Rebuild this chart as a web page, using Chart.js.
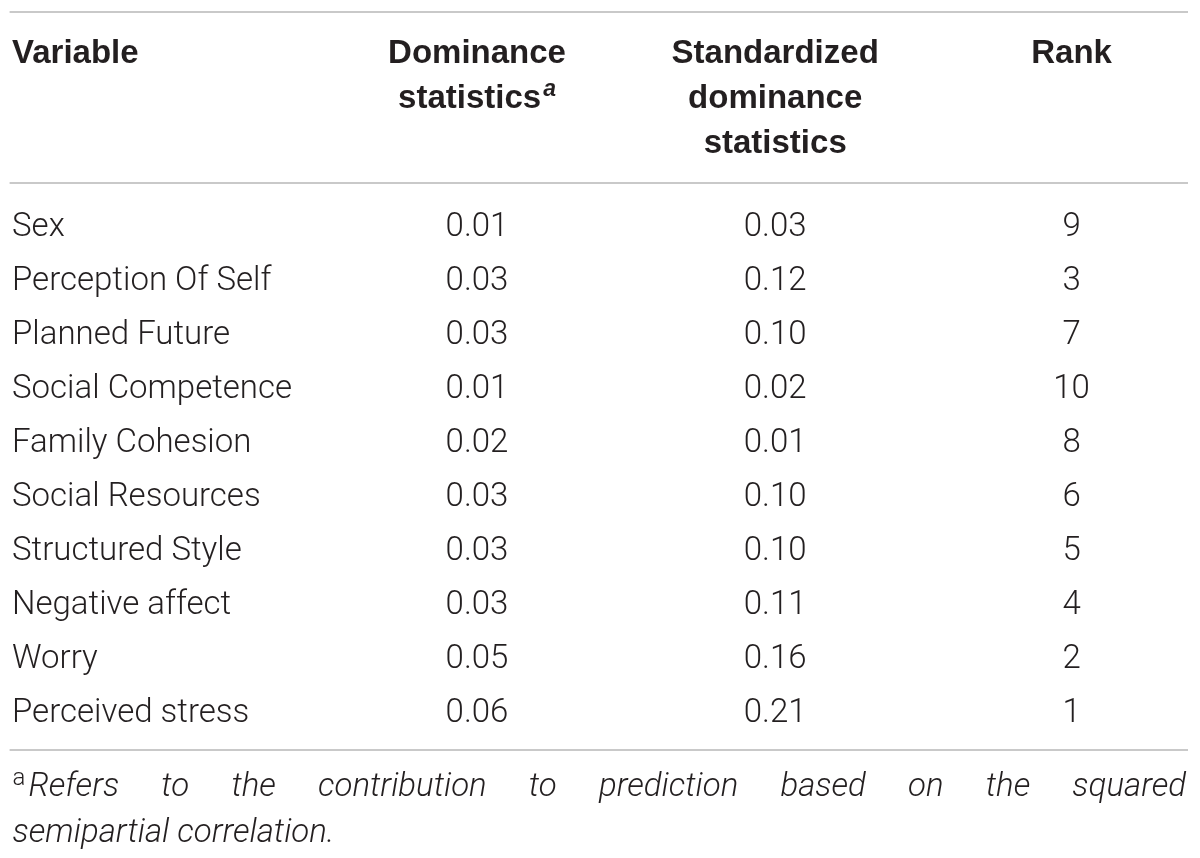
<!DOCTYPE html>
<html>
<head>
<meta charset="utf-8">
<script src="https://cdn.jsdelivr.net/npm/chart.js@4.4.1/dist/chart.umd.min.js"></script>
<style>
  html, body { margin: 0; padding: 0; background: #fff; }
  #wrap { width: 1200px; height: 858px; }
</style>
</head>
<body>
<div id="wrap"><canvas id="tableChart"></canvas></div>
<script>
// table content
const headerLines = [
  ['Variable'],
  ['Dominance', 'statistics'],
  ['Standardized', 'dominance', 'statistics'],
  ['Rank']
];
const variables = [
  'Sex', 'Perception Of Self', 'Planned Future', 'Social Competence', 'Family Cohesion',
  'Social Resources', 'Structured Style', 'Negative affect', 'Worry', 'Perceived stress'
];
const dominance = [0.01, 0.03, 0.03, 0.01, 0.02, 0.03, 0.03, 0.03, 0.05, 0.06];
const standardized = [0.03, 0.12, 0.10, 0.02, 0.01, 0.10, 0.10, 0.11, 0.16, 0.21];
const ranks = [9, 3, 7, 10, 8, 6, 5, 4, 2, 1];
const footnoteMark = 'a';
const footnoteLine1 = 'Refers to the contribution to prediction based on the squared';
const footnoteLine2 = 'semipartial correlation.';

// layout (x in fraction of width, y in row units at text baselines)
const colAnchor = [0.01, 0.3975, 0.646, 0.893];
const headerRows = [-3.204, -2.37, -1.537];
const ruleRows = [-4.148, -0.981, 9.519];
const footRows = [10.37, 11.22];

const BODY_FONT = '300 33px "Helvetica Neue", Roboto, "Liberation Sans", sans-serif';
const HEAD_FONT = 'bold 33px "Helvetica Neue", "Liberation Sans", Arial, sans-serif';
const SUP_FONT = 'italic bold 23px "Helvetica Neue", "Liberation Sans", Arial, sans-serif';
const TEXT_COLOR = '#231f20';

const fmt = v => v.toFixed(2);

const tablePlugin = {
  id: 'tableText',
  afterDatasetsDraw(chart) {
    const ctx = chart.ctx;
    const xs = chart.scales.x, ys = chart.scales.y;
    const left = xs.getPixelForValue(0.008), right = xs.getPixelForValue(0.99);
    ctx.save();

    // horizontal rules
    ctx.strokeStyle = '#c9c9c9';
    ctx.lineWidth = 2;
    ruleRows.forEach(r => {
      const y = Math.round(ys.getPixelForValue(r));
      ctx.beginPath();
      ctx.moveTo(left, y);
      ctx.lineTo(right, y);
      ctx.stroke();
    });

    // header
    ctx.fillStyle = TEXT_COLOR;
    ctx.textBaseline = 'alphabetic';
    headerLines.forEach((lines, c) => {
      const x = xs.getPixelForValue(colAnchor[c]);
      lines.forEach((t, k) => {
        const y = ys.getPixelForValue(headerRows[k]);
        ctx.font = HEAD_FONT;
        if (c === 1 && k === 1) {
          // "statistics" with the italic footnote mark
          const w = ctx.measureText(t).width;
          ctx.font = SUP_FONT;
          const ws = ctx.measureText(footnoteMark).width;
          const start = x - (w + ws + 2) / 2;
          ctx.textAlign = 'left';
          ctx.font = HEAD_FONT;
          ctx.fillText(t, start, y);
          ctx.font = SUP_FONT;
          ctx.fillText(footnoteMark, start + w + 2, y - 12);
        } else {
          ctx.textAlign = c === 0 ? 'left' : 'center';
          ctx.fillText(t, x, y);
        }
      });
    });

    // body cells at the dataset element positions
    ctx.font = BODY_FONT;
    chart.data.datasets.forEach((ds, di) => {
      const meta = chart.getDatasetMeta(di);
      ctx.textAlign = di === 0 ? 'left' : 'center';
      meta.data.forEach((pt, i) => {
        ctx.fillText(ds.data[i].label, pt.x, pt.y);
      });
    });

    // footnote, first line justified
    const fy1 = ys.getPixelForValue(footRows[0]);
    const fy2 = ys.getPixelForValue(footRows[1]);
    ctx.textAlign = 'left';
    ctx.font = '300 24px "Helvetica Neue", Roboto, "Liberation Sans", sans-serif';
    ctx.fillText(footnoteMark, left + 3, fy1 - 11);
    const markW = ctx.measureText(footnoteMark).width;
    ctx.font = 'italic 300 33px "Helvetica Neue", Roboto, "Liberation Sans", sans-serif';
    const words = footnoteLine1.split(' ');
    const widths = words.map(w => ctx.measureText(w).width);
    const startX = left + 3 + markW + 3;
    const endX = right - 2;
    const gap = (endX - startX - widths.reduce((a, b) => a + b, 0)) / (words.length - 1);
    let cx = startX;
    words.forEach((w, i) => {
      ctx.fillText(w, cx, fy1);
      cx += widths[i] + gap;
    });
    ctx.fillText(footnoteLine2, left + 3, fy2);

    ctx.restore();
  }
};

new Chart(document.getElementById('tableChart'), {
  type: 'scatter',
  data: {
    datasets: [
      { label: 'Variable', data: variables.map((v, i) => ({ x: colAnchor[0], y: i, label: v })) },
      { label: 'Dominance statistics', data: dominance.map((v, i) => ({ x: colAnchor[1], y: i, label: fmt(v) })) },
      { label: 'Standardized dominance statistics', data: standardized.map((v, i) => ({ x: colAnchor[2], y: i, label: fmt(v) })) },
      { label: 'Rank', data: ranks.map((v, i) => ({ x: colAnchor[3], y: i, label: String(v) })) }
    ]
  },
  options: {
    responsive: true,
    maintainAspectRatio: false,
    animation: false,
    layout: { padding: 0 },
    elements: { point: { radius: 0, hoverRadius: 0 } },
    plugins: { legend: { display: false }, tooltip: { enabled: false } },
    scales: {
      x: { type: 'linear', display: false, min: 0, max: 1 },
      y: { type: 'linear', display: false, reverse: true, min: -4.370, max: 11.519 }
    }
  },
  plugins: [tablePlugin]
});
</script>
</body>
</html>
